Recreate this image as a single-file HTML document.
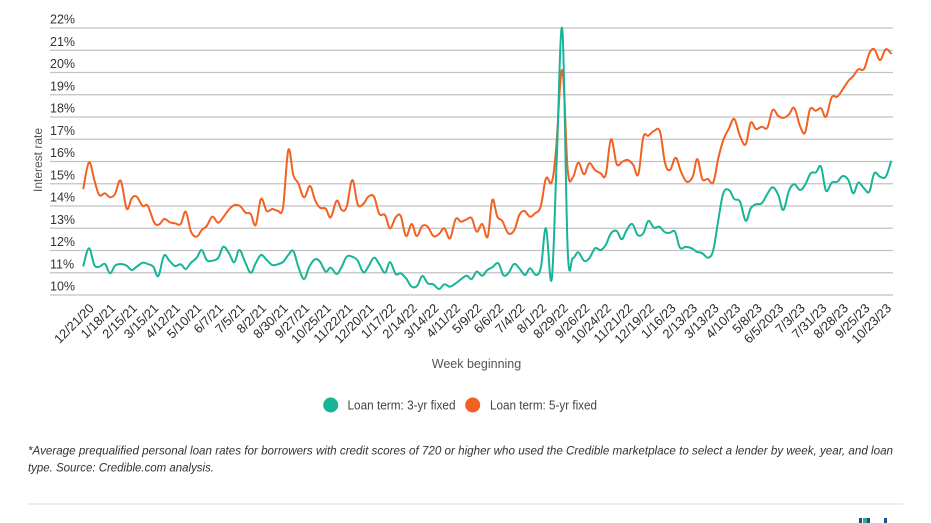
<!DOCTYPE html>
<html><head><meta charset="utf-8"><style>
html,body{margin:0;padding:0;background:#fff;}
svg{display:block;font-family:"Liberation Sans",Arial,sans-serif;}
</style></head><body>
<svg width="931" height="523" viewBox="0 0 931 523" xmlns="http://www.w3.org/2000/svg">
<rect width="931" height="523" fill="#fff"/>
<g stroke="#c2c2c2" stroke-width="1.3">
<line x1="50" x2="893" y1="28" y2="28"/>
<line x1="50" x2="893" y1="50.25" y2="50.25"/>
<line x1="50" x2="893" y1="72.5" y2="72.5"/>
<line x1="50" x2="893" y1="94.75" y2="94.75"/>
<line x1="50" x2="893" y1="117" y2="117"/>
<line x1="50" x2="893" y1="139.25" y2="139.25"/>
<line x1="50" x2="893" y1="161.5" y2="161.5"/>
<line x1="50" x2="893" y1="183.75" y2="183.75"/>
<line x1="50" x2="893" y1="206" y2="206"/>
<line x1="50" x2="893" y1="228.25" y2="228.25"/>
<line x1="50" x2="893" y1="250.5" y2="250.5"/>
<line x1="50" x2="893" y1="272.75" y2="272.75"/>
<line x1="50" x2="893" y1="295" y2="295"/>
</g>
<g font-size="12.5" fill="#333">
<text x="50" y="23.5">22%</text>
<text x="50" y="45.75">21%</text>
<text x="50" y="68">20%</text>
<text x="50" y="90.25">19%</text>
<text x="50" y="112.5">18%</text>
<text x="50" y="134.75">17%</text>
<text x="50" y="157">16%</text>
<text x="50" y="179.25">15%</text>
<text x="50" y="201.5">14%</text>
<text x="50" y="223.75">13%</text>
<text x="50" y="246">12%</text>
<text x="50" y="268.25">11%</text>
<text x="50" y="290.5">10%</text>
</g>
<text x="0" y="0" font-size="12" fill="#555" text-anchor="middle" transform="translate(42,160) rotate(-90)">Interest rate</text>

<polyline class="smooth" fill="none" stroke="#f26122" stroke-width="2" stroke-linejoin="round" stroke-linecap="round" points="83.3,188.3 89,162.3 94.3,180 99.3,195 105,193.3 110,197.3 115,194 120.7,180.7 126.7,208.7 131.7,198.3 136.7,196.7 142.7,206 147.7,205.7 154.3,222.7 159.3,224.3 164.3,219 170,222.3 175,223.3 180.7,224 185.7,211.7 191,231.7 196.7,236.7 201.7,230 206.7,226 212.3,216.7 218.3,222.7 224.3,215.7 230,208.3 235,205 240,206 245.7,212.7 250.7,214 255.7,225 261,199 266.7,211 272.3,209 277.7,210.7 283,207.5 288.3,150 293.3,175 298.3,183.3 304,197.3 310,186 315,200 320,207.7 325.7,208.7 330.7,217.3 336.7,200.7 341.7,210 346.7,206.7 352.3,180 357.7,204.3 363.3,204 368.3,196.7 374,196.7 379.3,214 385,215 390,228.3 395.7,217.3 400.7,216 406,236 411.7,224 416.7,236 422.3,226 427.7,226.7 433.3,236 439,234 444.3,228.3 450,238.3 455.7,219 461,221.7 466.7,219.3 471.7,218.3 476.7,231.7 482.3,224 487.7,236.7 492.3,200 497.3,216.7 502.3,221 508.3,233.3 514.3,230 519.3,215 524.3,211 530,216.7 535,213.3 540.7,206.7 546,178.3 551.7,182.3 556,150 562.3,70 567.7,170 572.7,177.7 578.3,162.7 584,174.3 589.3,163.3 595,170 600.7,173.3 605.7,175 611,139.3 616.7,164 622.3,161.7 627.7,160 633.3,165 638.3,174.3 643.3,137.3 648.3,135.7 654.3,130.7 660,131.7 665,162.7 670,170 675.7,157.7 681,171.7 686.7,181.7 692.7,176.7 697.3,159 702.3,179 707.7,179 713.3,182.3 718.3,158.3 723.3,140 729,128.3 734.3,119 740,136 745.7,144.3 750.7,122.7 756,129 761.7,126.7 767.3,127.7 772.7,110 778.3,116 784,117.7 789,114.3 794.3,108 800,126 805,132.7 810,109.3 815.7,110.7 821,108.3 826,116.7 831.7,97.3 837.3,96.7 842.7,89.3 848.3,81 853.3,76 858.3,69.3 864,69 869.3,53.3 874.3,49.3 880,60 885.7,49.3 891,53.3"/>

<polyline class="smooth" fill="none" stroke="#17b497" stroke-width="2" stroke-linejoin="round" stroke-linecap="round" points="83.3,265.7 89,248.3 94.3,265 99.3,266.7 105,264 110,273.3 115,265.7 120.7,264 126.7,265.7 131.7,270 136.7,266.7 142.7,262.7 147.7,264 153.3,266.7 158.3,276 164,255.7 169.3,260.7 175,266 180.7,264.3 185.7,269 191,262.7 196.7,257.7 201.7,250 206.7,260 212.3,260.7 218.3,257.7 223.3,246.7 229,253.3 234.3,262.3 239.3,250 245,261.7 250.7,272.7 255.7,263.3 261,255 266.7,260 272.3,265 277.7,264.3 283.3,261.7 288.3,255 293.3,251 298.3,266.7 304,279 309.3,266.7 315,259.3 320,261.7 325.7,271.7 330.7,267.7 336.7,274 341.7,266.7 346.7,256.7 352.3,256.7 357.7,260.7 363.3,272.3 368.3,266.7 374,257.7 379.3,264.3 385,272.7 390,262.3 395.7,274 400.7,273.3 406,278.3 411.7,286.7 417.3,285.7 422.3,276 427.7,283.3 433.3,284.3 439,289 444.3,284.3 450,286.7 455.7,283.3 461,279.3 466.7,275.7 471.7,279 476.7,271.7 482.3,275.7 487.3,270 492.3,267.3 498.3,263.3 503.3,275 508.3,273.3 514,264 519.3,268.3 525,275 530,268.3 536,275 541,266.7 546,228.3 551.7,279.3 556.7,160 562.3,29.3 567.7,250 572.7,258.3 578.3,252.3 584,260.7 589.3,258.3 595,248.3 600.7,250 605.7,245 611,233.3 616.7,231 621.7,239.3 626.7,230 632.3,224 637.7,235 643.3,233.3 648.3,221 654,227.7 659.3,226.7 665,232.3 670,232.7 675,231.7 680,247.7 686,246.7 691.7,248.3 696.7,251.7 702.3,253.3 708.3,257.7 713.3,250 718.3,220 723.3,193.3 729,190 734.3,199 740,201.7 745.7,220.7 750.7,208.3 756,204.3 761.7,203.3 767.3,194 772.7,187.3 778.3,195 783.3,210 789,190.7 794.3,184.3 800,190 805,185 810.7,173.3 816,172.3 821,166.7 826,190.7 831.7,182.7 837.3,181.7 842.7,176 848.3,180 853.3,193.3 858.3,182.7 864,188.3 869.3,191.7 874.3,173.3 880,176.7 885.7,176.7 891,161.7"/>

<g font-size="12.8" fill="#2a2a2a" text-anchor="end">
<text transform="translate(94.7,309) rotate(-45)">12/21/20</text>
<text transform="translate(116.25,309) rotate(-45)">1/18/21</text>
<text transform="translate(137.8,309) rotate(-45)">2/15/21</text>
<text transform="translate(159.35,309) rotate(-45)">3/15/21</text>
<text transform="translate(180.9,309) rotate(-45)">4/12/21</text>
<text transform="translate(202.45,309) rotate(-45)">5/10/21</text>
<text transform="translate(224,309) rotate(-45)">6/7/21</text>
<text transform="translate(245.55,309) rotate(-45)">7/5/21</text>
<text transform="translate(267.1,309) rotate(-45)">8/2/21</text>
<text transform="translate(288.65,309) rotate(-45)">8/30/21</text>
<text transform="translate(310.2,309) rotate(-45)">9/27/21</text>
<text transform="translate(331.75,309) rotate(-45)">10/25/21</text>
<text transform="translate(353.3,309) rotate(-45)">11/22/21</text>
<text transform="translate(374.85,309) rotate(-45)">12/20/21</text>
<text transform="translate(396.4,309) rotate(-45)">1/17/22</text>
<text transform="translate(417.95,309) rotate(-45)">2/14/22</text>
<text transform="translate(439.5,309) rotate(-45)">3/14/22</text>
<text transform="translate(461.05,309) rotate(-45)">4/11/22</text>
<text transform="translate(482.6,309) rotate(-45)">5/9/22</text>
<text transform="translate(504.15,309) rotate(-45)">6/6/22</text>
<text transform="translate(525.7,309) rotate(-45)">7/4/22</text>
<text transform="translate(547.25,309) rotate(-45)">8/1/22</text>
<text transform="translate(568.8,309) rotate(-45)">8/29/22</text>
<text transform="translate(590.35,309) rotate(-45)">9/26/22</text>
<text transform="translate(611.9,309) rotate(-45)">10/24/22</text>
<text transform="translate(633.45,309) rotate(-45)">11/21/22</text>
<text transform="translate(655,309) rotate(-45)">12/19/22</text>
<text transform="translate(676.55,309) rotate(-45)">1/16/23</text>
<text transform="translate(698.1,309) rotate(-45)">2/13/23</text>
<text transform="translate(719.65,309) rotate(-45)">3/13/23</text>
<text transform="translate(741.2,309) rotate(-45)">4/10/23</text>
<text transform="translate(762.75,309) rotate(-45)">5/8/23</text>
<text transform="translate(784.3,309) rotate(-45)">6/5/2023</text>
<text transform="translate(805.85,309) rotate(-45)">7/3/23</text>
<text transform="translate(827.4,309) rotate(-45)">7/31/23</text>
<text transform="translate(848.95,309) rotate(-45)">8/28/23</text>
<text transform="translate(870.5,309) rotate(-45)">9/25/23</text>
<text transform="translate(892.05,309) rotate(-45)">10/23/23</text>
</g>

<text x="476.5" y="368" font-size="12.5" fill="#555" text-anchor="middle">Week beginning</text>

<circle cx="330.7" cy="405" r="7.5" fill="#17b497"/>
<text x="347.5" y="409.5" font-size="13" fill="#444" textLength="108" lengthAdjust="spacingAndGlyphs">Loan term: 3-yr fixed</text>
<circle cx="472.7" cy="405" r="7.5" fill="#f26122"/>
<text x="490" y="409.5" font-size="13" fill="#444" textLength="107" lengthAdjust="spacingAndGlyphs">Loan term: 5-yr fixed</text>

<g font-size="12" font-style="italic" fill="#333">
<text x="28" y="454.5" textLength="865" lengthAdjust="spacingAndGlyphs">*Average prequalified personal loan rates for borrowers with credit scores of 720 or higher who used the Credible marketplace to select a lender by week, year, and loan</text>
<text x="28" y="471.5" textLength="186" lengthAdjust="spacingAndGlyphs">type. Source: Credible.com analysis.</text>
</g>

<line x1="28" x2="903" y1="504" y2="504" stroke="#dcdcdc" stroke-width="1"/>
<rect x="859" y="518" width="3" height="5" fill="#1d4f91"/>
<rect x="863" y="518" width="4" height="5" fill="#3aa88f"/>
<rect x="867" y="518" width="3" height="5" fill="#1d4f91"/>
<rect x="884" y="518" width="3" height="5" fill="#1d4f91"/>
</svg>
<script>
(function(){
  var ns="http://www.w3.org/2000/svg";
  var pls=document.querySelectorAll("polyline.smooth");
  for(var k=0;k<pls.length;k++){
    var pl=pls[k];
    var raw=pl.getAttribute("points").trim().split(/\s+/);
    var p=raw.map(function(s){var a=s.split(",");return [parseFloat(a[0]),parseFloat(a[1])];});
    var d="M"+p[0][0]+","+p[0][1];
    var t=0.18;
    for(var i=0;i<p.length-1;i++){
      var p0=p[i>0?i-1:i],p1=p[i],p2=p[i+1],p3=p[i+2<p.length?i+2:i+1];
      var c1x=p1[0]+(p2[0]-p0[0])*t,c1y=p1[1]+(p2[1]-p0[1])*t;
      var c2x=p2[0]-(p3[0]-p1[0])*t,c2y=p2[1]-(p3[1]-p1[1])*t;
      d+=" C"+c1x.toFixed(2)+","+c1y.toFixed(2)+" "+c2x.toFixed(2)+","+c2y.toFixed(2)+" "+p2[0]+","+p2[1];
    }
    var path=document.createElementNS(ns,"path");
    path.setAttribute("d",d);
    ["fill","stroke","stroke-width","stroke-linejoin","stroke-linecap"].forEach(function(a){path.setAttribute(a,pl.getAttribute(a));});
    pl.parentNode.replaceChild(path,pl);
  }
})();
</script>
</body></html>
